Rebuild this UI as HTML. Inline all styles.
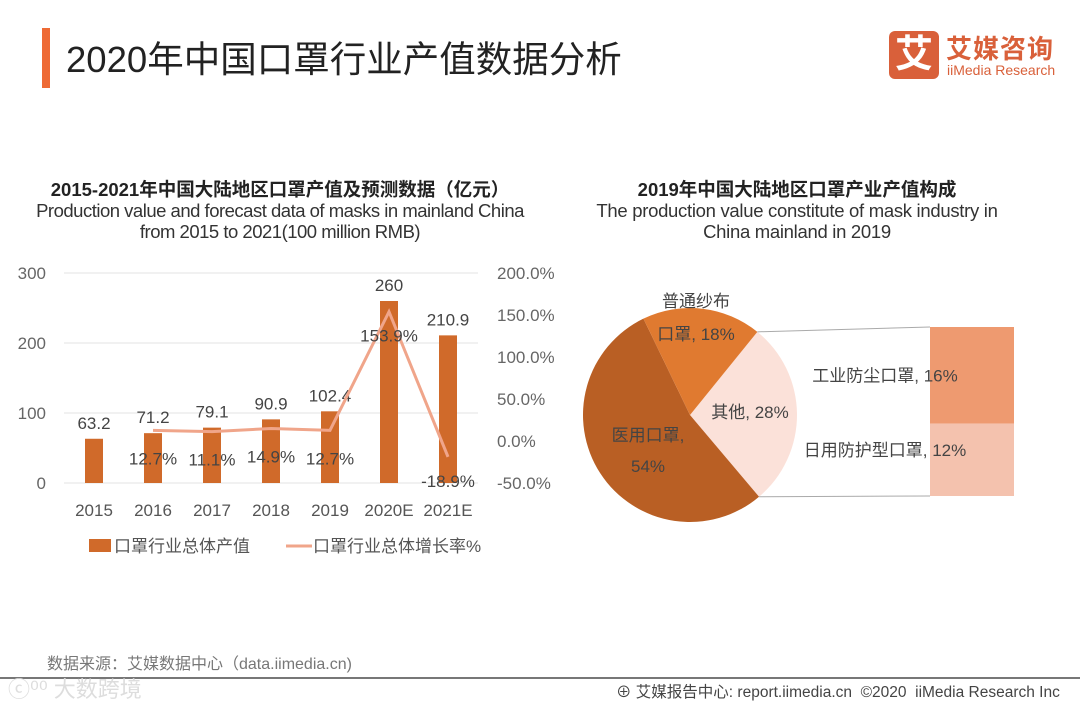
<!DOCTYPE html>
<html><head><meta charset="utf-8">
<style>
body{margin:0;background:#fff;}
#root{position:relative;width:1080px;height:702px;overflow:hidden;background:#fff;font-family:"Liberation Sans","Noto Sans CJK SC",sans-serif;}
.t{position:absolute;white-space:nowrap;}
</style></head>
<body>
<div id="root">
<div class="t" style="left:42px;top:28px;width:8px;height:60px;background:#EE6A35;"></div>
<div class="t" style="left:66px;top:30px;font-size:36.5px;color:#222;">2020年中国口罩行业产值数据分析</div>
<div class="t" style="left:889px;top:31px;width:50px;height:48px;background:#D9603A;border-radius:6px;color:#fff;font-size:38px;font-weight:bold;text-align:center;line-height:48px;">艾</div>
<div class="t" style="left:946px;top:29px;font-size:26px;font-weight:bold;color:#D9603A;letter-spacing:1px;">艾媒咨询</div>
<div class="t" style="left:947px;top:62px;font-size:14px;color:#D9603A;">iiMedia Research</div>

<div class="t" style="left:0;width:560px;text-align:center;top:176px;font-size:18.5px;font-weight:bold;color:#222;">2015-2021年中国大陆地区口罩产值及预测数据（亿元）</div>
<div class="t" style="left:0;width:560px;text-align:center;top:200px;font-size:18.5px;line-height:21px;color:#333;letter-spacing:-0.5px;white-space:normal;">Production value and forecast data of masks in mainland China<br>from 2015 to 2021(100 million RMB)</div>
<div class="t" style="left:547px;width:500px;text-align:center;top:176px;font-size:18.5px;font-weight:bold;color:#222;">2019年中国大陆地区口罩产业产值构成</div>
<div class="t" style="left:547px;width:500px;text-align:center;top:200px;font-size:18.5px;line-height:21px;color:#333;letter-spacing:-0.3px;white-space:normal;">The production value constitute of mask industry in<br>China mainland in 2019</div>

<svg id="bar" width="560" height="320" style="position:absolute;left:0;top:250px;" font-family="Liberation Sans, Noto Sans CJK SC, sans-serif"></svg>
<svg id="pie" width="520" height="300" style="position:absolute;left:560px;top:270px;" font-family="Liberation Sans, Noto Sans CJK SC, sans-serif"></svg>

<div class="t" style="left:47px;top:650px;font-size:16px;color:#777;">数据来源：艾媒数据中心（data.iimedia.cn)</div>
<div class="t" style="left:0;top:677px;width:1080px;height:2px;background:#777;"></div>
<div class="t" style="left:8px;top:672px;font-size:22px;color:#ddd;">ⓒ⁰⁰ 大数跨境</div>
<div class="t" style="left:616px;top:680px;font-size:15.5px;color:#444;">⊕ 艾媒报告中心: report.iimedia.cn &nbsp;©2020 &nbsp;iiMedia Research Inc</div>
</div>
<script>
const NS='http://www.w3.org/2000/svg';
function mk(p,tag,a,txt){const e=document.createElementNS(NS,tag);for(const k in a)e.setAttribute(k,a[k]);if(txt!==undefined)e.textContent=txt;p.appendChild(e);return e;}
const categories=['2015','2016','2017','2018','2019','2020E','2021E'];
const values=[63.2,71.2,79.1,90.9,102.4,260,210.9];
const growth=[null,12.7,11.1,14.9,12.7,153.9,-18.9];
const leftTicks=[0,100,200,300];
const rightTicks=[-50,0,50,100,150,200];
const pieLabels=['其他','医用口罩','普通纱布口罩'];
const pieShares=[28,54,18];
const subLabels=['工业防尘口罩','日用防护型口罩'];
const subShares=[16,12];

const svg=document.getElementById('bar');
const y0=233,y1=23;
const yL=v=>y0-(v/300)*(y0-y1);
const yR=v=>y0-((v+50)/250)*(y0-y1);
const x=i=>94+i*59;
leftTicks.forEach(t=>{
  const g=mk(svg,'line',{x1:64,x2:478,y1:yL(t),y2:yL(t),stroke:'#e3e3e3','stroke-width':1});
  
  const l=mk(svg,'text',{x:46,y:yL(t)+6,'text-anchor':'end','font-size':17,fill:'#666'},t);
  
});
rightTicks.forEach(t=>{
  const l=mk(svg,'text',{x:497,y:yR(t)+6,'font-size':17,fill:'#666'},t.toFixed(1)+'%');
  
});
values.forEach((v,i)=>{
  const r=mk(svg,'rect',{x:x(i)-9,y:yL(v),width:18,height:y0-yL(v),fill:'#D06A2A'});
  
  const l=mk(svg,'text',{x:x(i),y:yL(v)-10,'text-anchor':'middle','font-size':17,fill:'#444'},String(v));
  
  const c=mk(svg,'text',{x:x(i),y:266,'text-anchor':'middle','font-size':17,fill:'#555'},categories[i]);
  
});
let pts=[];growth.forEach((g,i)=>{if(g!==null)pts.push(x(i)+','+yR(g));});
const pl=mk(svg,'polyline',{points:pts.join(' '),fill:'none',stroke:'#F0A58A','stroke-width':3});

growth.forEach((g,i)=>{if(g===null)return;
  let yy=g>100?yR(g)+30:g<0?yR(g)+30:yR(g)+34;
  const l=mk(svg,'text',{x:x(i),y:yy,'text-anchor':'middle','font-size':17,fill:'#444'},g.toFixed(1)+'%');
  
});
const lb=mk(svg,'rect',{x:89,y:289,width:22,height:13,fill:'#D06A2A'});

const lt=mk(svg,'text',{x:114,y:302,'font-size':17,fill:'#555'},'口罩行业总体产值');

const ll=mk(svg,'line',{x1:286,x2:312,y1:296,y2:296,stroke:'#F0A58A','stroke-width':3});

const lt2=mk(svg,'text',{x:313,y:302,'font-size':17,fill:'#555'},'口罩行业总体增长率%');


// pie
const p=document.getElementById('pie');
const cx=130,cy=145,R=107;
const colors=['#FBE1D9','#B95F24','#E07A30'];
let a=39;
const pt=(ang,r)=>[cx+r*Math.sin(ang*Math.PI/180),cy-r*Math.cos(ang*Math.PI/180)];
const angles=[];
pieShares.forEach((s,i)=>{
  const sw=s*3.6,a2=a+sw;const [x1,y1_]=pt(a,R),[x2,y2]=pt(a2,R);
  const path=mk(p,'path',{d:`M${cx},${cy}L${x1},${y1_}A${R},${R} 0 ${sw>180?1:0} 1 ${x2},${y2}Z`,fill:colors[i]});
  
  angles.push([a,a2]);a=a2;
});
const lab=(t,xx,yy,nm)=>{const e=mk(p,'text',{x:xx,y:yy,'text-anchor':'middle','font-size':17,fill:'#444'},t);};
lab(pieLabels[0]+', '+pieShares[0]+'%',190,148,'pie-label-other');
lab('医用口罩,',88,171,'pie-label-medical');lab(pieShares[1]+'%',88,202,'pie-label-medical-pct');
lab('普通纱布',136,37,'pie-label-gauze');lab('口罩, '+pieShares[2]+'%',136,70,'pie-label-gauze-pct');
const bx=370,bw=84,bt=57,bb=226;const tot=subShares.reduce((s,v)=>s+v,0);
const subColors=['#EE9A70','#F4C2AE'];let yy=bt;
subShares.forEach((s,i)=>{const h=(s/tot)*(bb-bt);
  const r=mk(p,'rect',{x:bx,y:yy,width:bw,height:h,fill:subColors[i]});
  
  lab(subLabels[i]+', '+s+'%',bx-45,yy+h/2+(i===0?0:-10)+6,'sub-bar-label-'+i);yy+=h;});
const [sx1,sy1]=pt(angles[0][0],R),[sx2,sy2]=pt(angles[0][1],R);
const c1=mk(p,'line',{x1:sx1,y1:sy1,x2:bx,y2:bt,stroke:'#aaa','stroke-width':1});

const c2=mk(p,'line',{x1:sx2,y1:sy2,x2:bx,y2:bb,stroke:'#aaa','stroke-width':1});

</script>
</body></html>
